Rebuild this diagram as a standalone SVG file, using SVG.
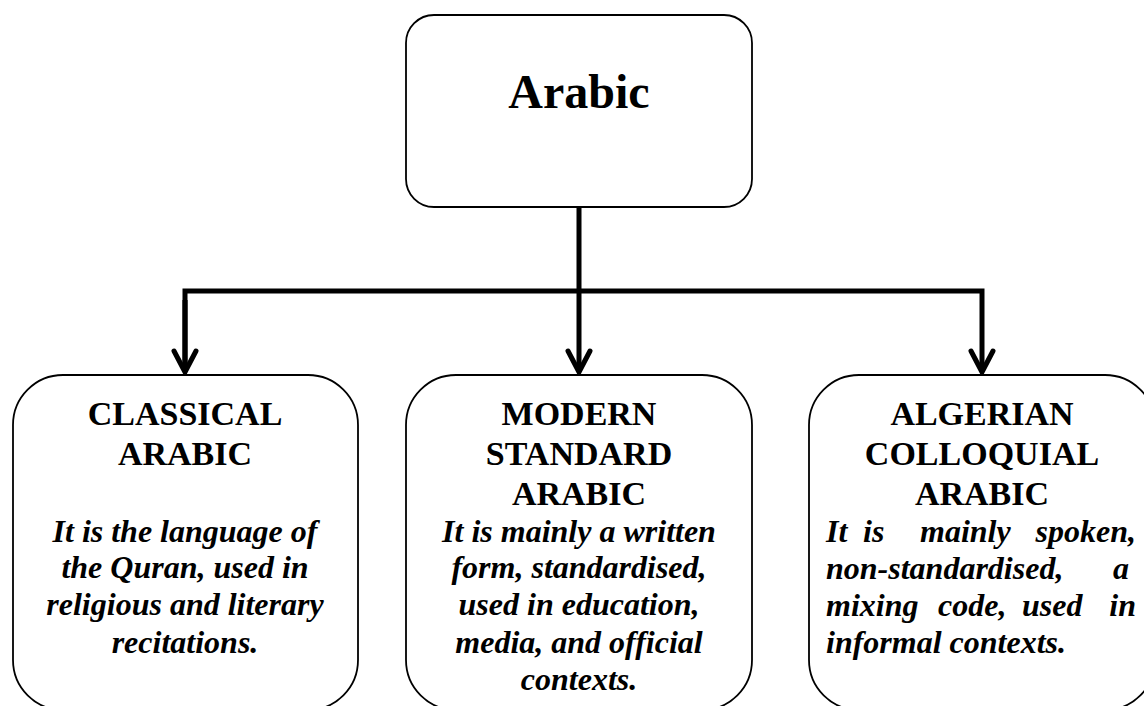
<svg xmlns="http://www.w3.org/2000/svg" width="1144" height="706" viewBox="0 0 1144 706">
<defs>
<style>
.box{fill:#fff;stroke:#000;stroke-width:1.8}
.title{font-family:"Liberation Serif","Times New Roman",serif;font-weight:bold;font-size:48px;text-anchor:middle;fill:#000}
.head{font-family:"Liberation Serif","Times New Roman",serif;font-weight:bold;font-size:34px;text-anchor:middle;fill:#000}
.body{font-family:"Liberation Serif","Times New Roman",serif;font-weight:bold;font-style:italic;font-size:32px;text-anchor:middle;fill:#000}
.bl{text-anchor:start}
.br{text-anchor:end}
.conn{fill:none;stroke:#000;stroke-width:5;stroke-linejoin:miter}
.head-v{fill:none;stroke:#000;stroke-width:5;stroke-linecap:round;stroke-linejoin:miter}
</style>
<marker id="arr" markerUnits="userSpaceOnUse" orient="auto" refX="0" refY="0" markerWidth="40" markerHeight="40" overflow="visible">
<path class="head-v" d="M-21,-11 L0,0 L-21,11"/>
</marker>
</defs>

<g id="connectors">
<path class="conn" d="M579,207 V372" marker-end="url(#arr)"/>
<path class="conn" d="M185,372 V291 H982 V372" marker-end="url(#arr)"/>
<path class="conn" d="M185,300 V372" marker-end="url(#arr)"/>
</g>

<g id="node-arabic">
<rect class="box" x="406" y="15" width="346" height="192" rx="28" ry="28"/>
<text class="title" x="579" y="108">Arabic</text>
</g>

<g id="node-classical">
<rect class="box" x="13" y="375" width="345" height="335" rx="50" ry="50"/>
<text class="head" x="185" y="425">CLASSICAL</text>
<text class="head" x="185" y="465">ARABIC</text>
<text class="body" x="185" y="542">It is the language of</text>
<text class="body" x="185" y="578">the Quran, used in</text>
<text class="body" x="185" y="615">religious and literary</text>
<text class="body" x="185" y="653">recitations.</text>
</g>

<g id="node-msa">
<rect class="box" x="406" y="375" width="346" height="335" rx="50" ry="50"/>
<text class="head" x="579" y="425">MODERN</text>
<text class="head" x="579" y="465">STANDARD</text>
<text class="head" x="579" y="505">ARABIC</text>
<text class="body" x="579" y="542">It is mainly a written</text>
<text class="body" x="579" y="578">form, standardised,</text>
<text class="body" x="579" y="615">used in education,</text>
<text class="body" x="579" y="653">media, and official</text>
<text class="body" x="579" y="690">contexts.</text>
</g>

<g id="node-algerian">
<rect class="box" x="809" y="375" width="346" height="335" rx="50" ry="50"/>
<text class="head" x="982" y="425">ALGERIAN</text>
<text class="head" x="982" y="465">COLLOQUIAL</text>
<text class="head" x="982" y="505">ARABIC</text>
<text class="body bl" y="542"><tspan x="826">It</tspan><tspan x="863">is</tspan><tspan x="920">mainly</tspan></text>
<text class="body br" x="1136" y="542">spoken,</text>
<text class="body bl" x="826" y="579">non-standardised,</text>
<text class="body br" x="1129" y="579">a</text>
<text class="body bl" y="616"><tspan x="826">mixing</tspan><tspan x="938">code,</tspan><tspan x="1022">used</tspan></text>
<text class="body br" x="1136" y="616">in</text>
<text class="body bl" x="826" y="653">informal contexts.</text>
</g>
</svg>
